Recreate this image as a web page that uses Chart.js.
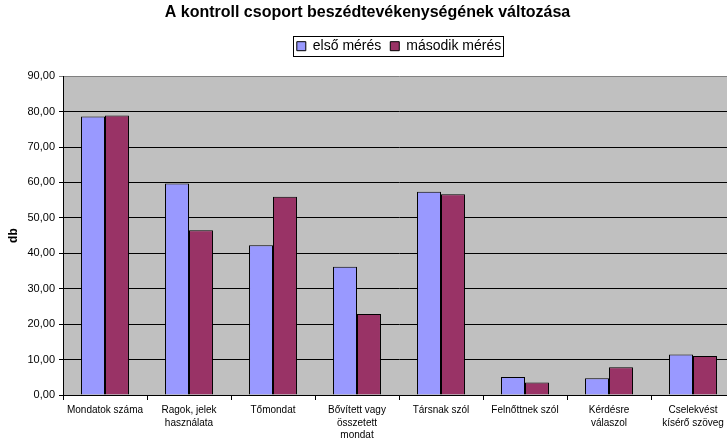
<!DOCTYPE html>
<html lang="hu">
<head>
<meta charset="utf-8">
<title>A kontroll csoport beszédtevékenységének változása</title>
<script src="https://cdn.jsdelivr.net/npm/chart.js@4/dist/chart.umd.min.js"></script>
<style>
  html, body { margin: 0; padding: 0; background: #fff; overflow: hidden; }
  #wrap { width: 727px; height: 439px; overflow: hidden; }
  canvas { display: block; }
</style>
</head>
<body>
<div id="wrap"><canvas id="chart" width="740" height="439"></canvas></div>
<script>
/* ─── DATA ────────────────────────────────────────────────── */
const categories = [
  'Mondatok száma',
  ['Ragok, jelek', 'használata'],
  'Tőmondat',
  ['Bővített vagy', 'összetett', 'mondat'],
  'Társnak szól',
  'Felnőttnek szól',
  ['Kérdésre', 'válaszol'],
  ['Cselekvést', 'kísérő szöveg'],
];
const elsoMeres    = [78.6, 59.7, 42.3, 36.2, 57.4, 5.1, 4.7, 11.4];
const masodikMeres = [78.9, 46.5, 56.0, 22.9, 56.7, 3.5, 7.8, 11.0];
const seriesNames  = ['első mérés', 'második mérés'];
const yMin = 0, yMax = 90, yStep = 10;

const FONT = '"Liberation Sans", Arial, sans-serif';

/* ─── PLUGINS ─────────────────────────────────────────────── */
// gray plot area like the Excel original
const plotBg = {
  id: 'plotBg',
  beforeDraw(chart) {
    const { ctx, chartArea: a } = chart;
    ctx.save();
    ctx.fillStyle = '#fff';
    ctx.fillRect(0, 0, chart.width, chart.height);
    ctx.fillStyle = '#c0c0c0';
    ctx.fillRect(a.left, a.top, a.right - a.left, a.bottom - a.top);
    ctx.restore();
  },
};

// thin black frame round the legend items
const legendFrame = {
  id: 'legendFrame',
  afterDraw(chart) {
    const boxes = chart.legend && chart.legend.legendHitBoxes;
    if (!boxes || !boxes.length) return;
    const first = boxes[0];
    const last  = boxes[boxes.length - 1];
    const x0 = Math.round(first.left - 4) + 0.5;
    const x1 = Math.round(last.left + last.width + 2) + 0.5;
    const y0 = Math.round(first.top - 3) + 0.5;
    const y1 = Math.round(first.top + first.height + 3) + 0.5;
    const ctx = chart.ctx;
    ctx.save();
    ctx.strokeStyle = '#000';
    ctx.lineWidth = 1;
    ctx.strokeRect(x0, y0, x1 - x0, y1 - y0);
    ctx.restore();
  },
};

/* ─── CHART ───────────────────────────────────────────────── */
const ctx = document.getElementById('chart').getContext('2d');

new Chart(ctx, {
  type: 'bar',
  data: {
    labels: categories,
    datasets: [
      {
        label: seriesNames[0],
        data: elsoMeres,
        backgroundColor: '#9999ff',
        borderColor: '#000',
        borderWidth: 1,
      },
      {
        label: seriesNames[1],
        data: masodikMeres,
        backgroundColor: '#993366',
        borderColor: '#000',
        borderWidth: 1,
      },
    ],
  },
  options: {
    responsive: false,
    animation: false,
    categoryPercentage: 0.571,
    barPercentage: 1.0,
    layout: { padding: { left: 0, right: 5, top: 0, bottom: 0 } },
    plugins: {
      title: {
        display: true,
        text: 'A kontroll csoport beszédtevékenységének változása',
        color: '#000',
        font: { family: FONT, size: 16, weight: 'bold', lineHeight: 1.2 },
        padding: { top: 3, bottom: 8 },
      },
      // empty spacer between legend and plot area
      subtitle: {
        display: true,
        text: ' ',
        weight: 500,
        font: { family: FONT, size: 1, lineHeight: 1 },
        padding: { top: 12, bottom: 0 },
      },
      legend: {
        display: true,
        position: 'top',
        fullSize: false,
        labels: {
          color: '#000',
          font: { family: FONT, size: 14 },
          boxWidth: 9,
          boxHeight: 9,
          padding: 9,
        },
      },
      tooltip: { enabled: false },
    },
    scales: {
      x: {
        offset: true,
        grid: {
          offset: true,
          drawOnChartArea: false,
          drawTicks: true,
          tickLength: 5,
          color: '#000',
        },
        border: { display: true, color: '#000', width: 1 },
        ticks: {
          color: '#000',
          font: { family: FONT, size: 10, lineHeight: 1.25 },
          padding: 4,
          maxRotation: 0,
          autoSkip: false,
        },
        afterFit: s => { s.height = 44; },
      },
      y: {
        min: yMin,
        max: yMax,
        grid: {
          color: c => (c.tick && c.tick.value === yMax ? '#808080' : '#000'),
          lineWidth: 1,
          tickLength: 4,
          drawTicks: true,
        },
        border: { display: true, color: '#000', width: 1 },
        ticks: {
          stepSize: yStep,
          color: '#000',
          font: { family: FONT, size: 11 },
          padding: 4,
          callback: v => v.toFixed(2).replace('.', ','),
        },
        title: {
          display: true,
          text: 'db',
          color: '#000',
          font: { family: FONT, size: 12, weight: 'bold' },
          padding: { top: 6, bottom: 0 },
        },
        afterFit: s => { s.width = 63; },
      },
    },
  },
  plugins: [plotBg, legendFrame],
});
</script>
</body>
</html>
